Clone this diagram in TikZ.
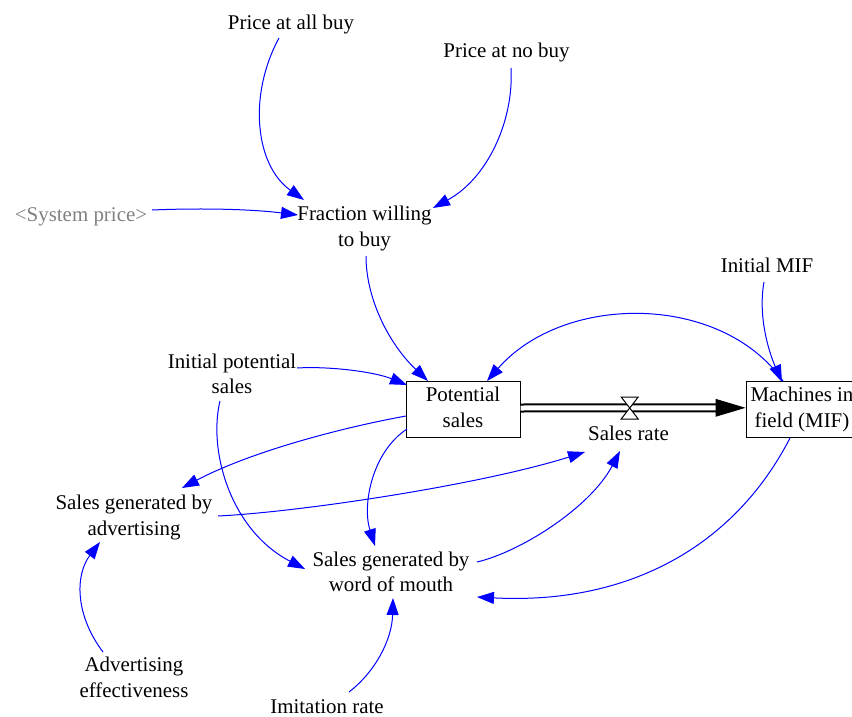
\documentclass[tikz,border=0pt]{standalone}
\usepackage{fontspec}
\setmainfont{Liberation Serif}
\usetikzlibrary{arrows.meta}
\newcommand{\vs}{\rule[-4.5bp]{0pt}{19bp}}
\tikzset{
  lbl/.style={align=center, inner sep=0pt, font=\fontsize{21}{26}\selectfont},
  shadowlbl/.style={lbl, text={rgb,255:red,128;green,128;blue,128}},
  stockbox/.style={lbl, draw, line width=1bp, minimum width=114bp, minimum height=56bp},
  link/.style={draw=blue, line width=1bp, -{Triangle[length=17bp,width=12bp]}},
  pipe/.style={draw=black, double=white, double distance=5bp, line width=2bp},
  valveshape/.style={draw=black, fill=white, line width=1bp, line join=miter}
}
\begin{document}
\begin{tikzpicture}[x=1bp,y=-1bp]
\useasboundingbox (0,0) rectangle (852,717);
\clip (0,0) rectangle (852,717);

% nodes
\node[lbl] (pab) at (291,24.3) {\vs Price at all buy};
\node[lbl] (pnb) at (506.5,53) {\vs Price at no buy};
\node[shadowlbl] (sys) at (81,216.7) {\vs <System price>};
\node[lbl] (fwb) at (364.5,228.7) {\vs Fraction willing\\\vs to buy};
\node[lbl] (ips) at (232,376) {\vs Initial potential\\\vs sales};
\node[stockbox] (ps) at (463,409.7) {\vs Potential\\\vs sales};
\node[stockbox, minimum width=112bp] (mif) at (802,409.5) {\vs Machines in\\\vs field (MIF)};
\node[lbl] (sr) at (628.5,435) {\vs Sales rate};
\node[lbl] (imif) at (767,267.7) {\vs Initial MIF};
\node[lbl] (sga) at (134,517.3) {\vs Sales generated by\\\vs advertising};
\node[lbl] (sgw) at (391,574) {\vs Sales generated by\\\vs word of mouth};
\node[lbl] (ade) at (134,679.7) {\vs Advertising\\\vs effectiveness};
\node[lbl] (imit) at (327,708) {\vs Imitation rate};

% flow pipe
\draw[pipe] ([yshift=1.7bp]ps.east) -- ([xshift=-20bp,yshift=1.7bp]mif.west);
\fill[black] ([yshift=1.7bp]mif.west) -- ++(-30,-9) -- ++(0,18) -- cycle;
\coordinate (valve) at (629.7,408);
\draw[valveshape] (valve) -- ++(-8.5,-11) -- ++(17,0) -- cycle;
\draw[valveshape] (valve) -- ++(-8.5,11) -- ++(17,0) -- cycle;

% links
\draw[link] ([shift={(-12,13.7)}]pab.center) .. controls (248,95) and (255,165) .. ([shift={(-60.5,-28.7)}]fwb.center);
\draw[link] ([shift={(4.5,15)}]pnb.center) .. controls (514,120) and (488,178) .. ([shift={(68.5,-20.7)}]fwb.center);
\draw[link] ([shift={(71,-6.7)}]sys.center) .. controls (200,208) and (250,209) .. ([shift={(-66.5,-13.7)}]fwb.center);
\draw[link] ([shift={(1.5,27.3)}]fwb.center) .. controls (366,300) and (390,345) .. ([shift={(-35,-28.7)}]ps.center);
\draw[link] ([shift={(65,-8)}]ips.center) .. controls (330,366) and (375,372) .. ([shift={(-56,-24.7)}]ps.center);
\draw[link] ([shift={(-19,-28.5)}]mif.center) .. controls (721,293) and (564,293) .. ([shift={(24,-28.7)}]ps.center);
\draw[link] ([shift={(-3,14.3)}]imif.center) .. controls (758,315) and (768,350) .. ([shift={(-20,-27.5)}]mif.center);
\draw[link] ([shift={(-57,6.3)}]ps.center) .. controls (340,428) and (250,452) .. ([shift={(48,-29.3)}]sga.center);
\draw[link] ([shift={(-56,19.3)}]ps.center) .. controls (372,452) and (362,505) .. ([shift={(-16,-28)}]sgw.center);
\draw[link] ([shift={(84,-1.3)}]sga.center) .. controls (300,512) and (480,485) .. ([shift={(-43.5,17)}]sr.center);
\draw[link] ([shift={(86,-12)}]sgw.center) .. controls (520,552) and (590,508) .. ([shift={(-8.5,16)}]sr.center);
\draw[link] ([shift={(-12,25)}]ips.center) .. controls (208,450) and (230,530) .. ([shift={(-86,-5)}]sgw.center);
\draw[link] ([shift={(-12,28.5)}]mif.center) .. controls (735,545) and (630,605) .. ([shift={(86,23)}]sgw.center);
\draw[link] ([shift={(-31,-27.7)}]ade.center) .. controls (75,615) and (75,575) .. ([shift={(-34,24.7)}]sga.center);
\draw[link] ([shift={(22,-16)}]imit.center) .. controls (375,672) and (392,640) .. ([shift={(2,24)}]sgw.center);
\end{tikzpicture}
\end{document}
